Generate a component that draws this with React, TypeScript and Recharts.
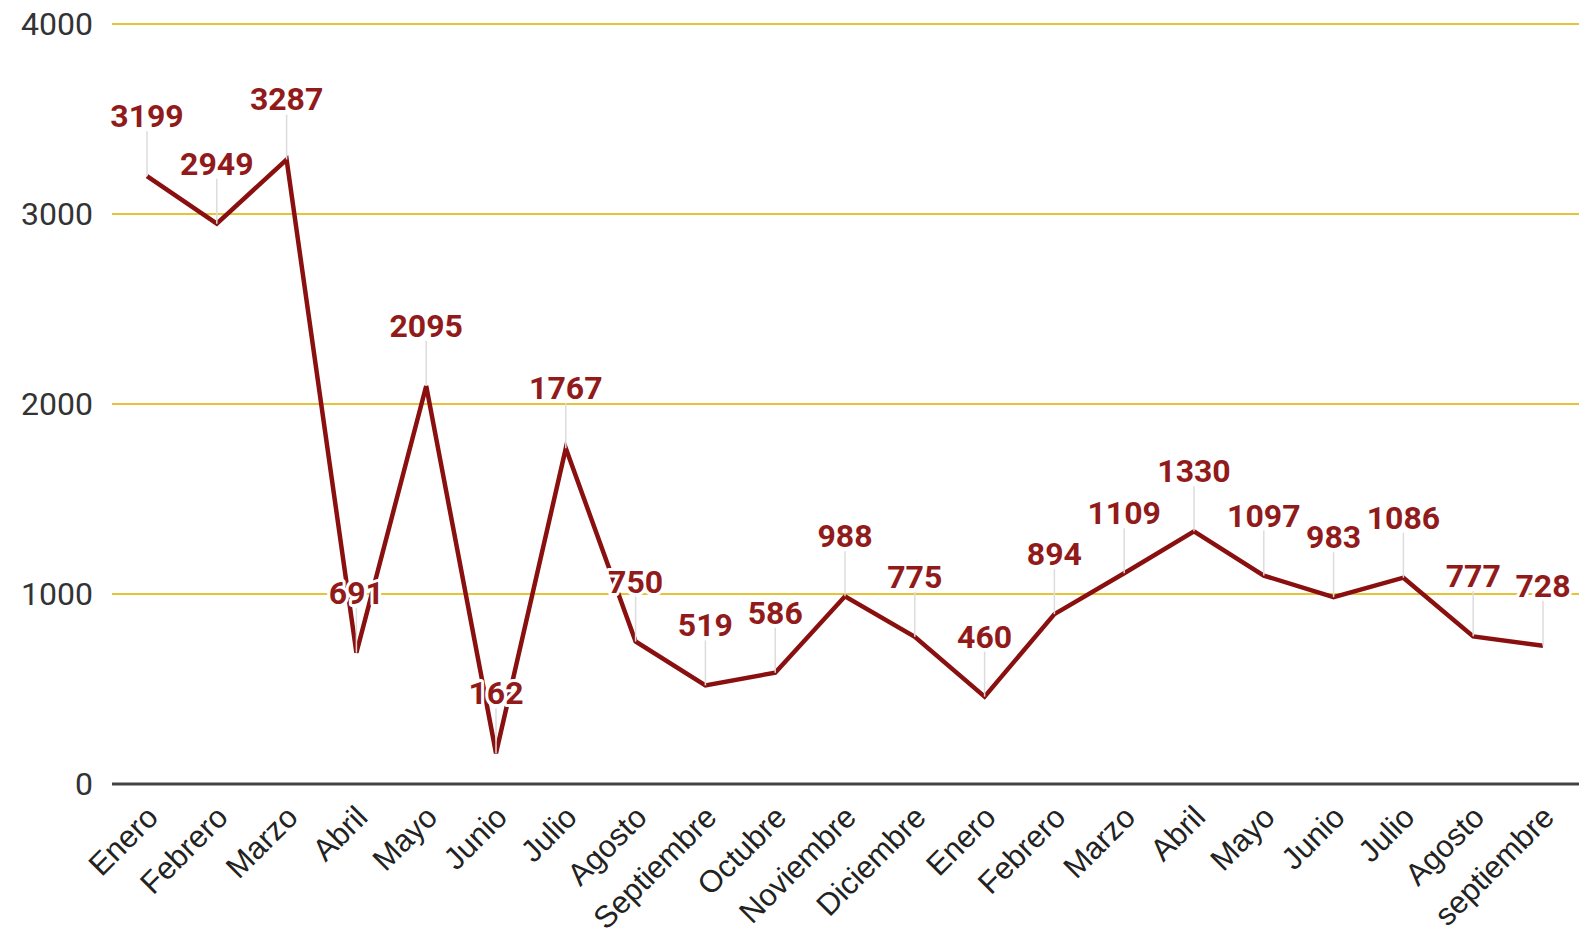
import React from "react";
import { LineChart, Line, XAxis, YAxis, CartesianGrid, LabelList } from "recharts";

const categories = [
  "Enero", "Febrero", "Marzo", "Abril", "Mayo", "Junio", "Julio", "Agosto",
  "Septiembre", "Octubre", "Noviembre", "Diciembre", "Enero", "Febrero",
  "Marzo", "Abril", "Mayo", "Junio", "Julio", "Agosto", "septiembre",
];
const values = [
  3199, 2949, 3287, 691, 2095, 162, 1767, 750, 519, 586, 988, 775, 460, 894,
  1109, 1330, 1097, 983, 1086, 777, 728,
];
const yTicks = [0, 1000, 2000, 3000, 4000];

const data = categories.map((c, i) => ({ idx: i, name: c, value: values[i] }));

const LINE_COLOR = "#8a1010";
const LABEL_COLOR = "#911a1a";
const GRID_COLOR = "#e7c33a";

const XTick = (props: any) => {
  const { x, y, payload } = props;
  const ax = x + 13;
  const ay = y + 27;
  return (
    <text
      x={ax}
      y={ay}
      transform={`rotate(-45, ${ax}, ${ay})`}
      textAnchor="end"
      fontFamily="'Liberation Sans', Arial, sans-serif"
      fontSize={31}
      fill="#222"
    >
      {categories[payload.value]}
    </text>
  );
};

const YTick = (props: any) => {
  const { x, y, payload } = props;
  return (
    <text
      x={x}
      y={y}
      textAnchor="end"
      dominantBaseline="central"
      fontFamily="Roboto, sans-serif"
      fontSize={32}
      fill="#333"
    >
      {payload.value}
    </text>
  );
};

const ValueLabel = (props: any) => {
  const { x, y, value } = props;
  return (
    <g>
      <line x1={x} y1={y} x2={x} y2={y - 45} stroke="#dcdcdc" strokeWidth={1.5} />
      <text
        x={x}
        y={y - 60}
        textAnchor="middle"
        dominantBaseline="central"
        fontFamily="Roboto, sans-serif"
        fontWeight="bold"
        fontSize={32}
        fill={LABEL_COLOR}
        stroke="#ffffff"
        strokeWidth={6}
        strokeLinejoin="round"
        paintOrder="stroke"
      >
        {value}
      </text>
    </g>
  );
};

export default function App() {
  return (
    <div style={{ position: "absolute", left: 0, top: 0, width: 1589, height: 938, background: "#fff" }}>
      <LineChart
        width={1589}
        height={938}
        data={data}
        margin={{ top: 24, right: 10, left: 0, bottom: 0 }}
      >
        <CartesianGrid vertical={false} stroke={GRID_COLOR} strokeWidth={2} />
        <XAxis
          dataKey="idx"
          type="category"
          height={154}
          interval={0}
          padding={{ left: 35, right: 36 }}
          axisLine={{ stroke: "#444", strokeWidth: 3 }}
          tickLine={false}
          tick={<XTick />}
        />
        <YAxis
          width={112}
          domain={[0, 4000]}
          ticks={yTicks}
          axisLine={false}
          tickLine={false}
          tickSize={0}
          tickMargin={19}
          tick={<YTick />}
        />
        <Line
          type="linear"
          dataKey="value"
          stroke={LINE_COLOR}
          strokeWidth={4.5}
          dot={false}
          activeDot={false}
          isAnimationActive={false}
        >
          <LabelList dataKey="value" content={<ValueLabel />} />
        </Line>
      </LineChart>
    </div>
  );
}
